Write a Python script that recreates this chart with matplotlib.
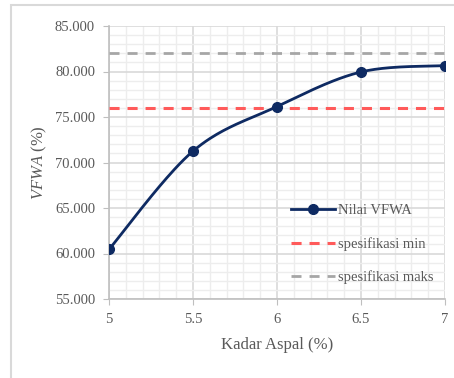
import numpy as np
import matplotlib.pyplot as plt
from matplotlib.patches import Rectangle
from matplotlib.ticker import MultipleLocator, FormatStrFormatter

kadar_aspal = [5, 5.5, 6, 6.5, 7]
vfwa = [60.45, 71.25, 76.15, 79.95, 80.65]
spek_min = 76
spek_maks = 82

plt.rcParams['font.family'] = ['Liberation Serif', 'DejaVu Serif']
plt.rcParams['mathtext.fontset'] = 'custom'
plt.rcParams['mathtext.rm'] = 'Liberation Serif'
plt.rcParams['mathtext.it'] = 'Liberation Serif:italic'


def smooth(x, y, xr, yr, n=40):
    # Catmull-Rom style bezier, like the smoothed line in spreadsheet charts
    p = np.column_stack([(np.asarray(x) - xr[0]) / (xr[1] - xr[0]),
                         (np.asarray(y) - yr[0]) / (yr[1] - yr[0]) * 0.81])
    out = []
    t = np.linspace(0, 1, n)[:, None]
    for i in range(len(p) - 1):
        p0 = p[i - 1] if i > 0 else p[i]
        p1, p2 = p[i], p[i + 1]
        p3 = p[i + 2] if i + 2 < len(p) else p[i + 1]
        c1 = p1 + (p2 - p0) / 6
        c2 = p2 - (p3 - p1) / 6
        seg = ((1 - t) ** 3) * p1 + 3 * ((1 - t) ** 2) * t * c1 + 3 * (1 - t) * t ** 2 * c2 + t ** 3 * p2
        out.append(seg)
    out = np.vstack(out)
    xs = out[:, 0] * (xr[1] - xr[0]) + xr[0]
    ys = out[:, 1] / 0.81 * (yr[1] - yr[0]) + yr[0]
    return xs, ys


fig = plt.figure(figsize=(4.54, 3.78), dpi=100)
fig.patches.append(Rectangle((11 / 454, -0.05), 1.2, 1 - 5 / 378 + 0.05,
                             transform=fig.transFigure, fill=False,
                             edgecolor='#D9D9D9', lw=1.5))
ax = fig.add_axes([109 / 454, 79 / 378, 336 / 454, 273 / 378])

xr, yr = (5, 7), (55, 85)
xs, ys = smooth(kadar_aspal, vfwa, xr, yr)
navy = '#0E2A62'
ax.plot(xs, ys, color=navy, lw=2, zorder=4)
ax.plot(kadar_aspal, vfwa, 'o', color=navy, ms=7, zorder=5)
ax.plot([], [], '-o', color=navy, lw=2, ms=7, label='Nilai VFWA')
ax.plot(kadar_aspal, [spek_min] * len(kadar_aspal), color='#FF5A5A', lw=2.2,
        dashes=(3.3, 2.6), label='spesifikasi min', zorder=3)
ax.plot(kadar_aspal, [spek_maks] * len(kadar_aspal), color='#A6A6A6', lw=2.0,
        dashes=(3.6, 2.9), label='spesifikasi maks', zorder=3)

ax.set_xlim(*xr)
ax.set_ylim(*yr)
ax.xaxis.set_major_locator(MultipleLocator(0.5))
ax.xaxis.set_minor_locator(MultipleLocator(0.1))
ax.yaxis.set_major_locator(MultipleLocator(5))
ax.yaxis.set_minor_locator(MultipleLocator(1))
ax.xaxis.set_major_formatter(FormatStrFormatter('%g'))
ax.yaxis.set_major_formatter(FormatStrFormatter('%.3f'))
ax.grid(which='major', color='#D9D9D9', lw=1.2)
ax.grid(which='minor', color='#EDEDED', lw=1)
ax.set_axisbelow(True)
for s in ['top', 'right']:
    ax.spines[s].set_visible(False)
for s in ['left', 'bottom']:
    ax.spines[s].set_color('#BFBFBF')
    ax.spines[s].set_linewidth(1.2)
ax.tick_params(which='major', length=4, color='#BFBFBF', labelcolor='#595959',
               labelsize=10.5, pad=6)
ax.tick_params(which='minor', length=0)

ax.set_xlabel('Kadar Aspal (%)', fontsize=12, color='#595959', labelpad=8)
ax.set_ylabel(r'$\it{VFWA}$ (%)', fontsize=12, color='#595959', labelpad=4)

ax.legend(loc='upper left', bbox_to_anchor=(278 / 454, 1 - 191 / 378),
          bbox_transform=fig.transFigure, frameon=False, fontsize=10.5,
          labelcolor='#595959', handlelength=3, handletextpad=0.2,
          labelspacing=1.35)

fig.savefig('out.png', dpi=100)
